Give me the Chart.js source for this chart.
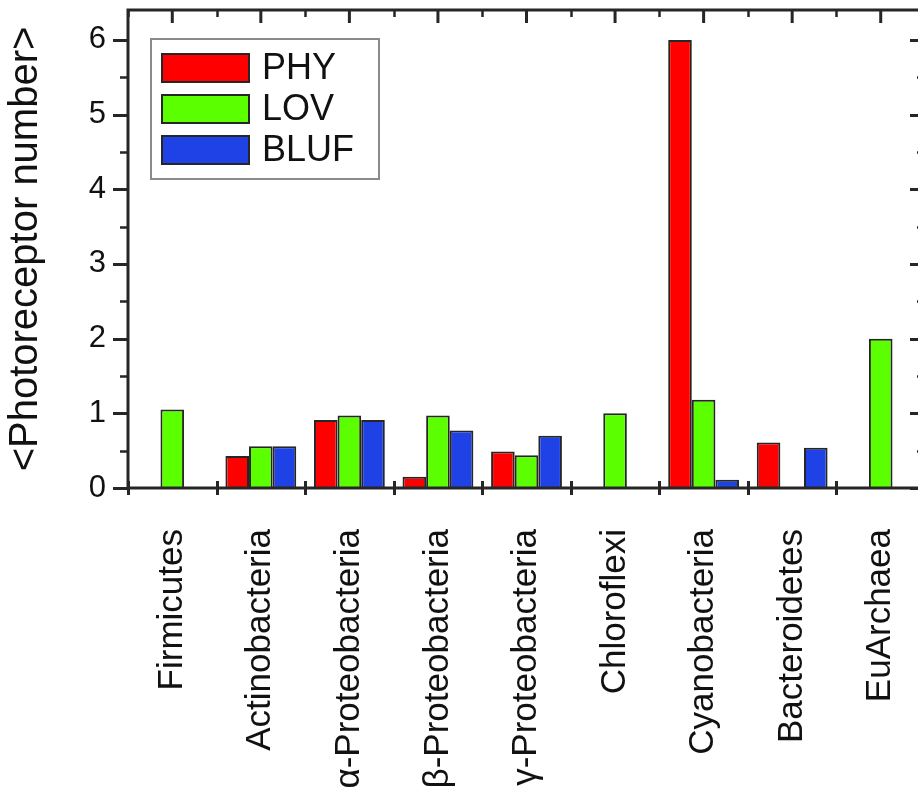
<!DOCTYPE html>
<html>
<head>
<meta charset="utf-8">
<script src="https://cdn.jsdelivr.net/npm/chart.js@4"></script>
<style>
  html, body { margin: 0; padding: 0; background: #fff; overflow: hidden; }
  #wrap { width: 940px; height: 800px; }
</style>
</head>
<body>
<div id="wrap"><canvas id="c" width="940" height="800"></canvas></div>
<script>
// Taxonomic groups along the x axis
const categories = ['Firmicutes', 'Actinobacteria', 'α-Proteobacteria', 'β-Proteobacteria',
  'γ-Proteobacteria', 'Chloroflexi', 'Cyanobacteria', 'Bacteroidetes', 'EuArchaea'];

// Mean photoreceptor count per genome for each family
const phy  = [null, 0.43, 0.91, 0.15, 0.49, null, 6.00, 0.61, null];
const lov  = [1.05, 0.56, 0.97, 0.97, 0.44, 1.00, 1.18, null, 2.00];
const bluf = [null, 0.56, 0.91, 0.77, 0.70, null, 0.11, 0.54, null];

const seriesNames = ['PHY', 'LOV', 'BLUF'];
const yTicks = [0, 1, 2, 3, 4, 5, 6];

const COLORS = ['#ff0000', '#5cff00', '#1f42e6'];
const INK = '#262626';
const FONT = '"Liberation Sans", Arial, sans-serif';

// Frame, tick marks on all four sides, and the inset legend
const framePlugin = {
  id: 'frame',
  afterDatasetsDraw(chart) {
    const { ctx, chartArea: a, scales: { x, y } } = chart;
    ctx.save();
    ctx.strokeStyle = INK;
    ctx.lineCap = 'butt';

    // y ticks (left outward, right inward), every 0.5
    for (let v = 0; v <= 6.0001; v += 0.5) {
      const py = Math.round(y.getPixelForValue(v)) + 0.5;
      const major = Math.abs(v - Math.round(v)) < 1e-6;
      const len = major ? 15 : 8;
      ctx.lineWidth = major ? 3 : 2.5;
      ctx.beginPath();
      ctx.moveTo(a.left - len, py); ctx.lineTo(a.left, py);
      ctx.moveTo(a.right, py); ctx.lineTo(a.right - len, py);
      ctx.stroke();
    }

    // x ticks: top at centres (major) and boundaries (minor), bottom crossing at boundaries
    const n = categories.length;
    const step = (a.right - a.left) / n;
    for (let i = 0; i < n; i++) {
      const cx = x.getPixelForValue(i);
      ctx.lineWidth = 3;
      ctx.beginPath(); ctx.moveTo(cx, a.top); ctx.lineTo(cx, a.top + 13); ctx.stroke();
    }
    for (let i = 0; i <= n; i++) {
      const bx = Math.round(x.getPixelForValue(i) - step / 2) + 0.5;
      ctx.lineWidth = 2.5;
      ctx.beginPath(); ctx.moveTo(bx, a.top); ctx.lineTo(bx, a.top + 7); ctx.stroke();
      ctx.lineWidth = 3;
      ctx.beginPath(); ctx.moveTo(bx, a.bottom - 7); ctx.lineTo(bx, a.bottom + 7); ctx.stroke();
    }

    // plot frame
    ctx.lineWidth = 3;
    ctx.strokeRect(a.left, a.top, a.right - a.left, a.bottom - a.top);

    // legend box
    ctx.lineWidth = 2;
    ctx.strokeStyle = '#8a8a8a';
    ctx.fillStyle = '#ffffff';
    ctx.fillRect(151, 39, 228, 140);
    ctx.strokeRect(151, 39, 228, 140);
    ctx.font = '36px ' + FONT;
    ctx.textBaseline = 'middle';
    ctx.textAlign = 'left';
    chart.data.datasets.forEach((ds, k) => {
      const top = 54 + k * 41;
      ctx.fillStyle = ds.backgroundColor;
      ctx.fillRect(162, top, 87, 28);
      ctx.strokeStyle = INK;
      ctx.lineWidth = 2;
      ctx.strokeRect(162, top, 87, 28);
      ctx.fillStyle = '#111';
      ctx.fillText(ds.label, 262, top + 15);
    });
    ctx.restore();
  }
};

new Chart(document.getElementById('c'), {
  type: 'bar',
  data: {
    labels: categories,
    datasets: [
      { label: seriesNames[0], data: phy,  backgroundColor: COLORS[0] },
      { label: seriesNames[1], data: lov,  backgroundColor: COLORS[1] },
      { label: seriesNames[2], data: bluf, backgroundColor: COLORS[2] }
    ]
  },
  options: {
    responsive: false,
    animation: false,
    devicePixelRatio: 1,
    layout: { autoPadding: false, padding: { top: 10, right: 15, left: 0, bottom: 0 } },
    datasets: {
      bar: {
        categoryPercentage: 0.8,
        barPercentage: 1.0,
        borderColor: INK,
        borderWidth: 2
      }
    },
    plugins: {
      legend: { display: false },
      tooltip: { enabled: false }
    },
    scales: {
      x: {
        grid: { display: false, drawTicks: false },
        border: { display: false },
        ticks: {
          color: '#111',
          font: { family: FONT, size: 35 },
          minRotation: 90,
          maxRotation: 90,
          autoSkip: false,
          padding: 41
        },
        afterFit: s => {
          s.height = 312;
          s.paddingLeft = 0; s.paddingRight = 0; s.paddingTop = 0; s.paddingBottom = 0;
        }
      },
      y: {
        min: 0,
        max: 6.4,
        grid: { display: false, drawTicks: false },
        border: { display: false },
        afterBuildTicks: s => { s.ticks = yTicks.map(v => ({ value: v })); },
        ticks: {
          color: '#111',
          font: { family: FONT, size: 31 },
          padding: 22
        },
        title: {
          display: true,
          text: '<Photoreceptor number>',
          color: '#111',
          font: { family: FONT, size: 40 },
          padding: { top: 2, bottom: 0 }
        },
        afterFit: s => {
          s.width = 128;
          s.paddingLeft = 0; s.paddingRight = 0; s.paddingTop = 0; s.paddingBottom = 0;
        }
      }
    }
  },
  plugins: [framePlugin]
});
</script>
</body>
</html>
